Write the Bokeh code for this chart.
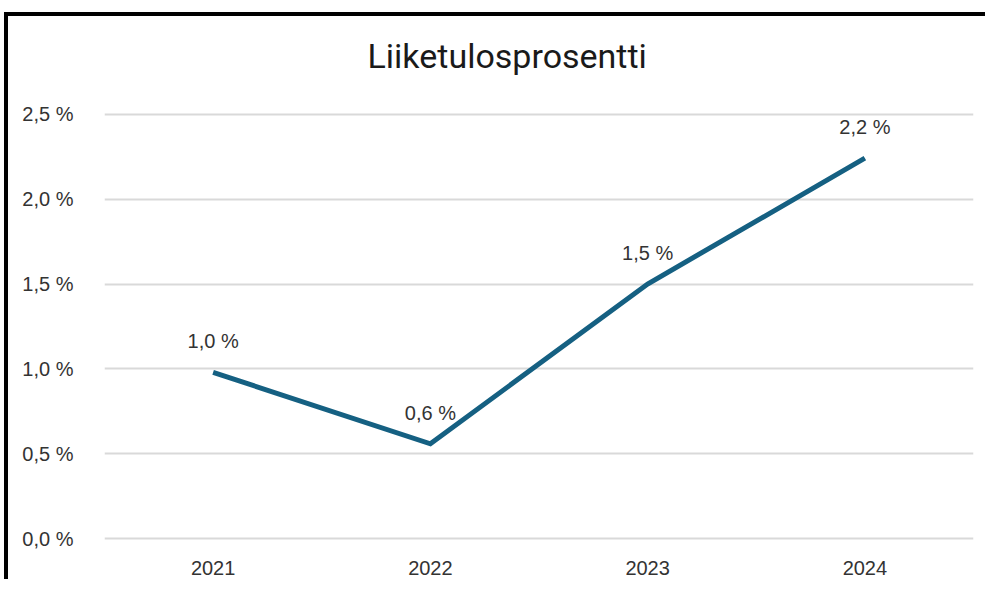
from bokeh.plotting import figure
from bokeh.models import Range1d, FactorRange, CustomJSTickFormatter, ColumnDataSource, FixedTicker, Title, Div, Spacer
from bokeh.layouts import column, row
from bokeh.core.properties import value
from bokeh.embed import file_html
from bokeh.resources import INLINE

years = ["2021", "2022", "2023", "2024"]
values = [0.98, 0.56, 1.50, 2.24]
y_ticks = [0.0, 0.5, 1.0, 1.5, 2.0, 2.5]
title_text = "Liiketulosprosentti"

labels = [("%.1f" % v).replace(".", ",") + " %" for v in values]
src = ColumnDataSource(dict(x=years, y=values, label=labels))

p = figure(width=977, height=563, output_backend="svg", toolbar_location=None,
           x_range=FactorRange(*years, range_padding=0),
           y_range=Range1d(-0.0324, 2.5324),
           min_border_left=96, min_border_right=12, min_border_top=92, min_border_bottom=35,
           margin=0)

p.title.text = title_text
p.title.align = "left"
p.title.vertical_align = "top"
p.title.offset = 263
p.title.text_font = "Roboto"
p.title.text_font_size = "34px"
p.title.text_font_style = "normal"
p.title.text_color = "#1a1a1a"
p.title.standoff = 0
# spacer between title and plot area
p.add_layout(Title(text=" ", text_font_size="1px", standoff=28), "above")

p.outline_line_color = None
p.xgrid.grid_line_color = None
p.ygrid.grid_line_color = "#d9d9d9"
p.ygrid.grid_line_width = 2
p.yaxis.ticker = FixedTicker(ticks=y_ticks)
p.yaxis.formatter = CustomJSTickFormatter(code="return tick.toFixed(1).replace('.', ',') + ' %';")

for ax in (p.xaxis[0], p.yaxis[0]):
    ax.axis_line_color = None
    ax.major_tick_line_color = None
    ax.minor_tick_line_color = None
    ax.major_label_text_font = "Liberation Sans"
    ax.major_label_text_font_size = "20px"
    ax.major_label_text_color = "#333333"
p.yaxis.major_label_standoff = 25
p.xaxis.major_label_standoff = 10

p.line("x", "y", source=src, line_color="#156082", line_width=5, line_join="miter")
p.text("x", "y", text="label", source=src, text_align="center", text_baseline="middle",
       y_offset=-31, text_font=value("Liberation Sans"), text_font_size="20px",
       text_color="#333333")

# chart frame: black rules along the top and left edges
top_rule = Div(text="", width=981, height=4, margin=0, styles={"background-color": "#000000"})
left_rule = Div(text="", width=4, height=563, margin=0, styles={"background-color": "#000000"})

layout = column(
    Spacer(width=985, height=12, margin=0),
    row(Spacer(width=4, height=4, margin=0), top_rule, spacing=0, margin=0),
    row(Spacer(width=4, height=563, margin=0), left_rule, p, spacing=0, margin=0),
    spacing=0, margin=0,
)

open("out.html", "w").write(file_html(layout, INLINE))
